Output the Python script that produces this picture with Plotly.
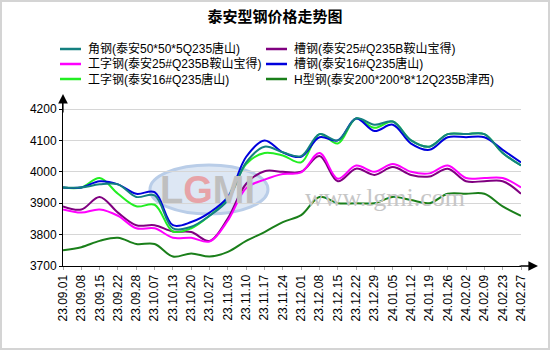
import plotly.graph_objects as go

# ---------------- data ----------------
dates = ["23.09.01", "23.09.08", "23.09.15", "23.09.22", "23.09.28", "23.10.07",
         "23.10.13", "23.10.20", "23.10.27", "23.11.03", "23.11.10", "23.11.17",
         "23.11.24", "23.12.01", "23.12.08", "23.12.15", "23.12.22", "23.12.29",
         "24.01.05", "24.01.12", "24.01.19", "24.01.26", "24.02.02", "24.02.09",
         "24.02.23", "24.02.27"]

angle_steel = [3950, 3950, 3960, 3960, 3920, 3925, 3820, 3825, 3860, 3910, 4030, 4080, 4062,
               4050, 4120, 4100, 4170, 4150, 4160, 4100, 4080, 4120, 4120, 4120, 4060, 4020]
channel_25 = [3890, 3880, 3920, 3870, 3830, 3830, 3810, 3808, 3780, 3852, 3962, 4002, 4000,
              4000, 4050, 3970, 4010, 3990, 4015, 3990, 3985, 4010, 3970, 3970, 3970, 3930]
ibeam_25 = [3880, 3870, 3880, 3860, 3820, 3820, 3790, 3790, 3778, 3845, 3948, 3975, 3993,
            3998, 4060, 3978, 4020, 4000, 4025, 4000, 3995, 4020, 3980, 3980, 3980, 3950]
channel_16 = [3950, 3950, 3970, 3960, 3930, 3935, 3830, 3840, 3870, 3920, 4048, 4100, 4062,
              4048, 4110, 4100, 4170, 4130, 4150, 4090, 4070, 4110, 4110, 4110, 4070, 4030]
ibeam_16 = [3950, 3950, 3980, 3930, 3890, 3895, 3810, 3820, 3860, 3915, 4025, 4060, 4052,
            4030, 4120, 4090, 4170, 4140, 4160, 4100, 4080, 4120, 4120, 4120, 4060, 4020]
h_beam = [3750, 3760, 3780, 3790, 3770, 3770, 3730, 3740, 3730, 3745, 3780, 3808, 3840,
          3862, 3920, 3900, 3900, 3900, 3920, 3910, 3900, 3930, 3930, 3930, 3890, 3860]

names = ["角钢(泰安50*50*5Q235唐山)", "槽钢(泰安25#Q235B鞍山宝得)",
         "工字钢(泰安25#Q235B鞍山宝得)", "槽钢(泰安16#Q235唐山)",
         "工字钢(泰安16#Q235唐山)", "H型钢(泰安200*200*8*12Q235B津西)"]
series = [angle_steel, channel_25, ibeam_25, channel_16, ibeam_16, h_beam]
colors = ["#148080", "#800080", "#ff00ff", "#0000dd", "#22ee22", "#1a7f1a"]

y_ticks = [3700, 3800, 3900, 4000, 4100, 4200]
title = "泰安型钢价格走势图"

# ---------------- layout geometry ----------------
W, H = 550, 350
L, R, T, B = 63, 29, 100, 84
PW, PH = W - L - R, H - T - B


def px(x):
    return (x - L) / PW


def py(y):
    return (H - B - y) / PH


fig = go.Figure()

# drawing order: bottom to top
draw_order = [5, 1, 2, 4, 3, 0]
for k in draw_order:
    fig.add_trace(go.Scatter(
        x=dates, y=series[k], name=names[k], mode="lines",
        line=dict(color=colors[k], width=2, shape="spline", smoothing=1.0),
        showlegend=False, hoverinfo="x+y+name"))

FONT = "Liberation Sans, Arial, Noto Sans CJK SC, sans-serif"

shapes = []
annotations = []

# border of the whole image
shapes.append(dict(type="rect", xref="paper", yref="paper",
                   x0=px(1), x1=px(549), y0=py(349), y1=py(1),
                   line=dict(color="#d4d4d4", width=2), layer="below"))

# watermark logo
shapes.append(dict(type="circle", xref="paper", yref="paper",
                   x0=px(150), x1=px(268), y0=py(214), y1=py(165),
                   fillcolor="#dde7f4", line=dict(color="#b9cde8", width=3),
                   layer="below"))
annotations.append(dict(
    xref="paper", yref="paper", x=px(207), y=py(190), showarrow=False,
    text="<span style='color:#bfbfbf'>L</span><span style='color:#e7a3a8'>G</span>"
         "<span style='color:#bfbfbf'>MI</span>",
    font=dict(family="Liberation Sans, Arial", size=38, weight="bold"),
    xanchor="center", yanchor="middle"))
annotations.append(dict(
    xref="paper", yref="paper", x=px(385), y=py(197), showarrow=False,
    text="www.lgmi.com", font=dict(family="Liberation Serif, serif", size=26, color="#c6c6c6"),
    xanchor="center", yanchor="middle"))

# manual legend (two columns, three rows)
legend_pos = [(60, 49), (266, 49), (60, 64), (266, 64), (60, 79), (266, 79)]
for k, (lx, ly) in enumerate(legend_pos):
    shapes.append(dict(type="line", xref="paper", yref="paper",
                       x0=px(lx), x1=px(lx + 21), y0=py(ly), y1=py(ly),
                       line=dict(color=colors[k], width=2.5)))
    annotations.append(dict(xref="paper", yref="paper", x=px(lx + 26), y=py(ly),
                            text=names[k], showarrow=False, xanchor="left", yanchor="middle",
                            font=dict(family=FONT, size=12, color="#000000")))

# axis arrows
annotations.append(dict(xref="paper", yref="paper", x=0, y=py(94), ax=0, ay=20,
                        axref="pixel", ayref="pixel", text="", showarrow=True,
                        arrowhead=2, arrowsize=1.6, arrowwidth=1.2, arrowcolor="#000000",
                        standoff=0))
shapes.append(dict(type="line", xref="paper", yref="paper", x0=1, x1=px(530),
                   y0=0, y1=0, line=dict(color="#000000", width=1)))
annotations.append(dict(xref="paper", yref="paper", x=px(538), y=0, ax=-20, ay=0,
                        axref="pixel", ayref="pixel", text="", showarrow=True,
                        arrowhead=2, arrowsize=1.6, arrowwidth=1.2, arrowcolor="#000000",
                        standoff=0))

fig.update_layout(
    width=W, height=H,
    margin=dict(l=L, r=R, t=T, b=B, pad=0),
    paper_bgcolor="#ffffff", plot_bgcolor="#ffffff",
    title=dict(text=title, x=0.5, xref="container", xanchor="center",
               y=1 - 17 / H, yref="container", yanchor="middle",
               font=dict(family="Noto Sans CJK SC", size=15, color="#000000", weight="bold")),
    font=dict(family=FONT, size=12, color="#000000"),
    showlegend=False,
    shapes=shapes,
    annotations=annotations,
    xaxis=dict(type="category", range=[0, len(dates) - 1], showgrid=False,
               showline=True, linecolor="#000000", linewidth=1,
               ticks="outside", ticklen=3, tickcolor="#aaaaaa",
               tickangle=-90, tickfont=dict(family=FONT, size=12, color="#000000"),
               zeroline=False, fixedrange=True),
    yaxis=dict(range=[3700, 3700 + PH / 0.314], tickvals=y_ticks,
               showgrid=True, gridcolor="#d6d6d6", gridwidth=1,
               showline=True, linecolor="#000000", linewidth=1,
               ticks="outside", ticklen=3, tickcolor="#000000",
               tickfont=dict(family=FONT, size=12, color="#000000"),
               zeroline=False, fixedrange=True),
)

fig.write_html("out.html")
